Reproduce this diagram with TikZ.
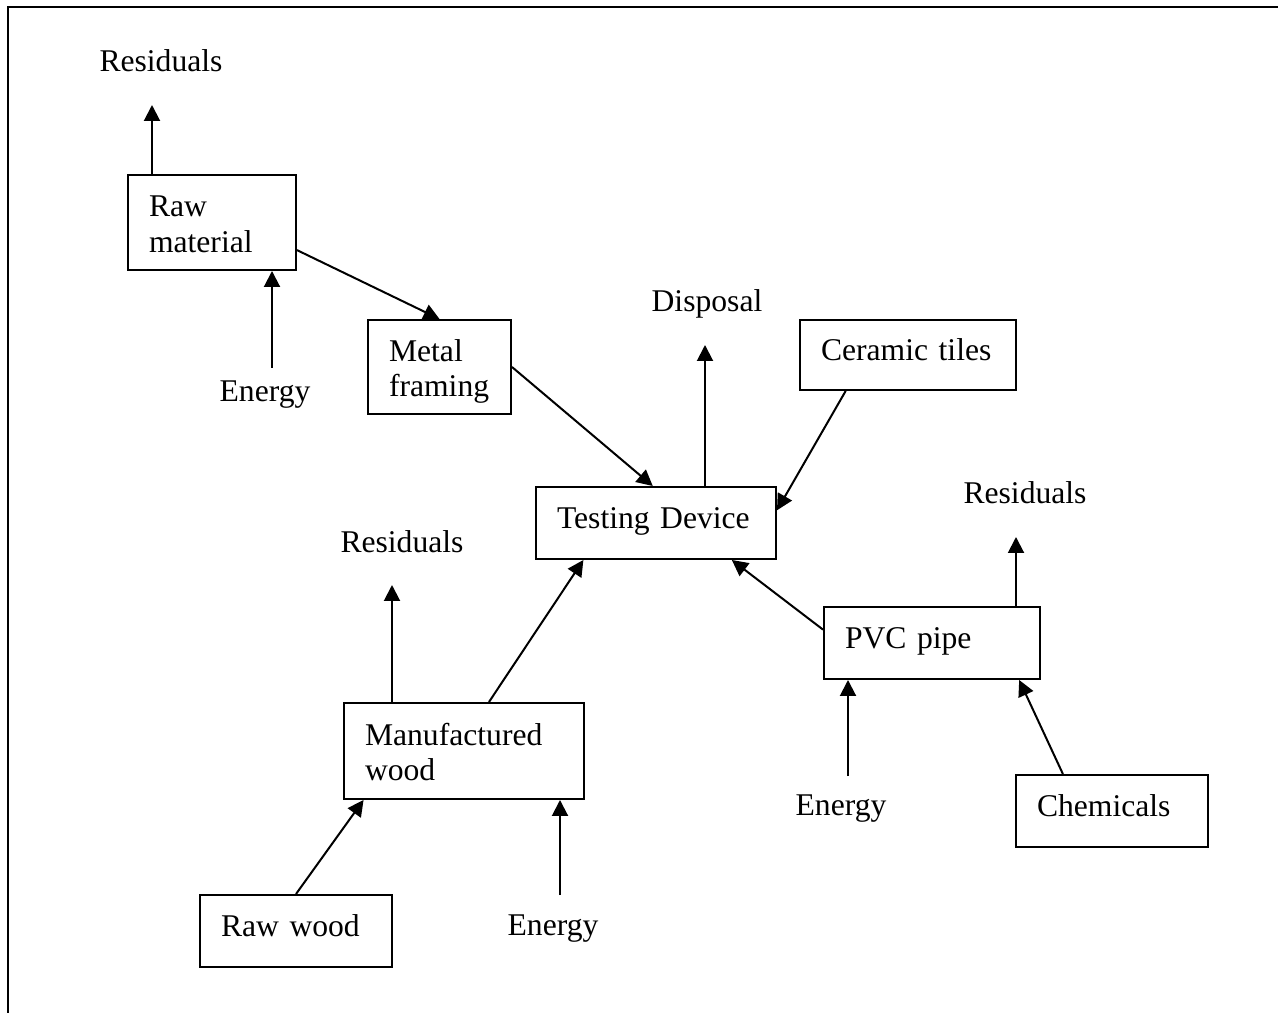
\documentclass[tikz,border=0pt]{standalone}
\usepackage{fontspec}
\setmainfont{Liberation Serif}
\usetikzlibrary{arrows.meta}

\begin{document}
\begin{tikzpicture}[x=0.02cm, y=-0.02cm,
  every node/.style={font=\fontsize{18}{20}\selectfont, inner sep=0pt},
  stage/.style={draw, rectangle, line width=0.04cm, inner xsep=0.42cm, align=left, text height=0.42cm, text depth=0.2cm},
  twoline/.style={text depth=0.64cm},
  outlabel/.style={anchor=base},
  flow/.style={-{Triangle[length=0.32cm, width=0.32cm]}, line width=0.04cm}]
\useasboundingbox (0,0) rectangle (1278,1013);
\draw[line width=0.04cm] (8,1013) -- (8,7) -- (1278,7);
\node[stage, twoline, text width=2.52cm, minimum height=1.9cm] (rawmat) at (212,222.5) {Raw\\material};
\node[stage, twoline, text width=2.02cm, minimum height=1.88cm] (metal) at (439.5,367) {Metal\\framing};
\node[stage, text width=3.96cm, minimum height=1.44cm] (testing) at (656,523) {Testing Device};
\node[stage, text width=3.48cm, minimum height=1.4cm] (ceramic) at (908,355) {Ceramic tiles};
\node[stage, text width=3.48cm, minimum height=1.44cm] (pvc) at (932,643) {PVC pipe};
\node[stage, text width=3.00cm, minimum height=1.44cm] (chem) at (1112,811) {Chemicals};
\node[stage, twoline, text width=3.96cm, minimum height=1.92cm] (manuf) at (464,751) {Manufactured\\wood};
\node[stage, text width=3.00cm, minimum height=1.44cm] (rawwood) at (296,931) {Raw wood};
\node[outlabel] (res1) at (161,72) {Residuals};
\node[outlabel] (en1) at (265,401) {Energy};
\node[outlabel] (disp) at (707,312) {Disposal};
\node[outlabel] (res2) at (1025,503) {Residuals};
\node[outlabel] (res3) at (402,552) {Residuals};
\node[outlabel] (en2) at (841,815) {Energy};
\node[outlabel] (en3) at (553,935) {Energy};
\coordinate (res1tip) at (152,105);
\coordinate (en1tail) at (272,368);
\coordinate (disptip) at (705,345);
\coordinate (res2tip) at (1016,537);
\coordinate (res3tip) at (392,585);
\coordinate (en2tail) at (848,776);
\coordinate (en3tail) at (560,895);
\draw[flow] (res1tip |- rawmat.north) -- (res1tip);
\draw[flow] (en1tail) -- (en1tail |- rawmat.south);
\draw[flow] (rawmat.-18) -- (metal.north);
\draw[flow] (metal.east) -- (testing.95);
\draw[flow] (disptip |- testing.north) -- (disptip);
\draw[flow] (ceramic.210) -- (testing.6);
\draw[flow] (pvc.173) -- (testing.-26);
\draw[flow] (res2tip |- pvc.north) -- (res2tip);
\draw[flow] (en2tail) -- (en2tail |- pvc.south);
\draw[flow] (chem.143) -- (pvc.-23);
\draw[flow] (res3tip |- manuf.north) -- (res3tip);
\draw[flow] (manuf.63) -- (testing.207);
\draw[flow] (rawwood.north) -- (manuf.206);
\draw[flow] (en3tail) -- (en3tail |- manuf.south);
\end{tikzpicture}
\end{document}
